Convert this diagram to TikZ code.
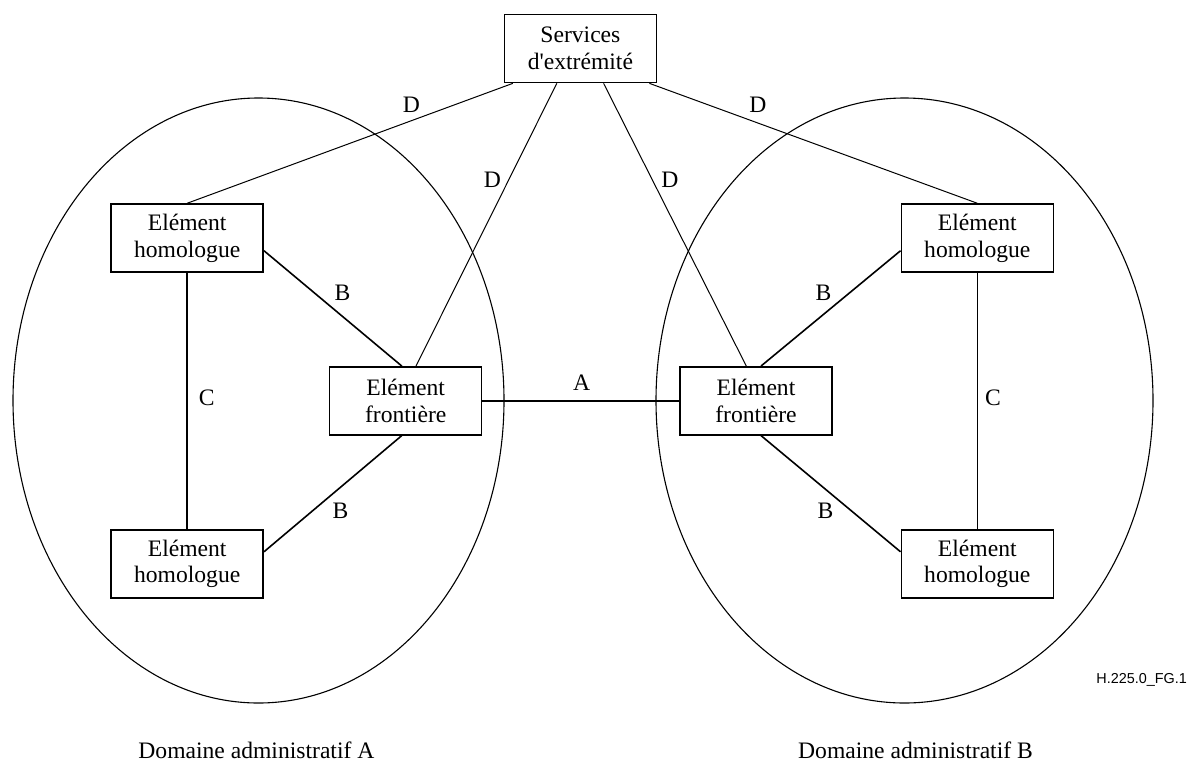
\documentclass[tikz,border=0pt]{standalone}
\usepackage{fontspec}
\setmainfont{Liberation Serif}
\newfontfamily\figsans{Liberation Sans}
\usetikzlibrary{shapes.geometric,calc}
\tikzset{
  box/.style={draw, line width=0.75pt, rectangle, minimum width=76pt, minimum height=34pt, inner sep=0pt, align=center, font=\fontsize{11.8}{13.4}\selectfont},
  admdomain/.style={draw, line width=0.55pt, ellipse, inner sep=0pt},
  thin link/.style={line width=0.5pt},
  thick link/.style={line width=0.8pt},
  lbl/.style={inner sep=0pt, font=\fontsize{11.8}{13.4}\selectfont},
}
\begin{document}
\begin{tikzpicture}[x=0.5pt, y=-0.5pt]
\useasboundingbox (0,0) rectangle (1188,761);
% domains
\node[admdomain, minimum width=245.5pt, minimum height=302.5pt] (domA) at (258.5,400.5) {};
\node[admdomain, minimum width=248.5pt, minimum height=302.5pt] (domB) at (904.5,400.5) {};
% boxes
\node[box] (S) at (580.4,48.6) {Services\\d\textquotesingle extrémité};
\node[box] (HTL) at (187.2,238) {Elément\\homologue};
\node[box] (HBL) at (187.2,563.8) {Elément\\homologue};
\node[box] (FL) at (405.7,400.8) {Elément\\frontière};
\node[box] (FR) at (756,400.8) {Elément\\frontière};
\node[box] (HTR) at (977.3,238) {Elément\\homologue};
\node[box] (HBR) at (977.3,563.8) {Elément\\homologue};
% D links
\draw[thin link] ($(S.south)+(-67.6,0)$) -- (HTL.north);
\draw[thin link] ($(S.south)+(-23.6,0)$) -- ($(FL.north)+(10.3,0)$);
\draw[thin link] ($(S.south)+(23.2,0)$) -- ($(FR.north)+(-9.7,0)$);
\draw[thin link] ($(S.south)+(69,0)$) -- (HTR.north);
% B links
\draw[thick link] ($(HTL.east)+(0,12.7)$) -- ($(FL.north)+(-3.9,0)$);
\draw[thick link] ($(FL.south)+(-3.9,0)$) -- ($(HBL.east)+(0,-12)$);
\draw[thick link] ($(HTR.west)+(0,12.7)$) -- ($(FR.north)+(5,0)$);
\draw[thick link] ($(FR.south)+(5,0)$) -- ($(HBR.west)+(0,-12)$);
% C links
\draw[thick link] (HTL.south) -- (HBL.north);
\draw[thick link] (HTR.south) -- (HBR.north);
% A link
\draw[thick link] (FL.east) -- (FR.west);
% labels
\node[lbl] (lD1) at (411.4,105) {D};
\node[lbl] (lD2) at (492.5,180) {D};
\node[lbl] (lD3) at (669.8,180) {D};
\node[lbl] (lD4) at (757.8,105) {D};
\node[lbl] (lB1) at (342.5,293) {B};
\node[lbl] (lB2) at (340.6,511) {B};
\node[lbl] (lB3) at (823.6,293) {B};
\node[lbl] (lB4) at (825.5,511) {B};
\node[lbl] (lC1) at (206.7,398) {C};
\node[lbl] (lC2) at (993,398) {C};
\node[lbl] (lA) at (581.7,383) {A};
\node[lbl] (tA) at (256.4,750) {Domaine administratif A};
\node[lbl] (tB) at (915.5,750) {Domaine administratif B};
\node[inner sep=0pt, anchor=west, font=\figsans\fontsize{7.2}{8.5}\selectfont] (fig) at (1096,680) {H.225.0\_FG.1};
\end{tikzpicture}
\end{document}
